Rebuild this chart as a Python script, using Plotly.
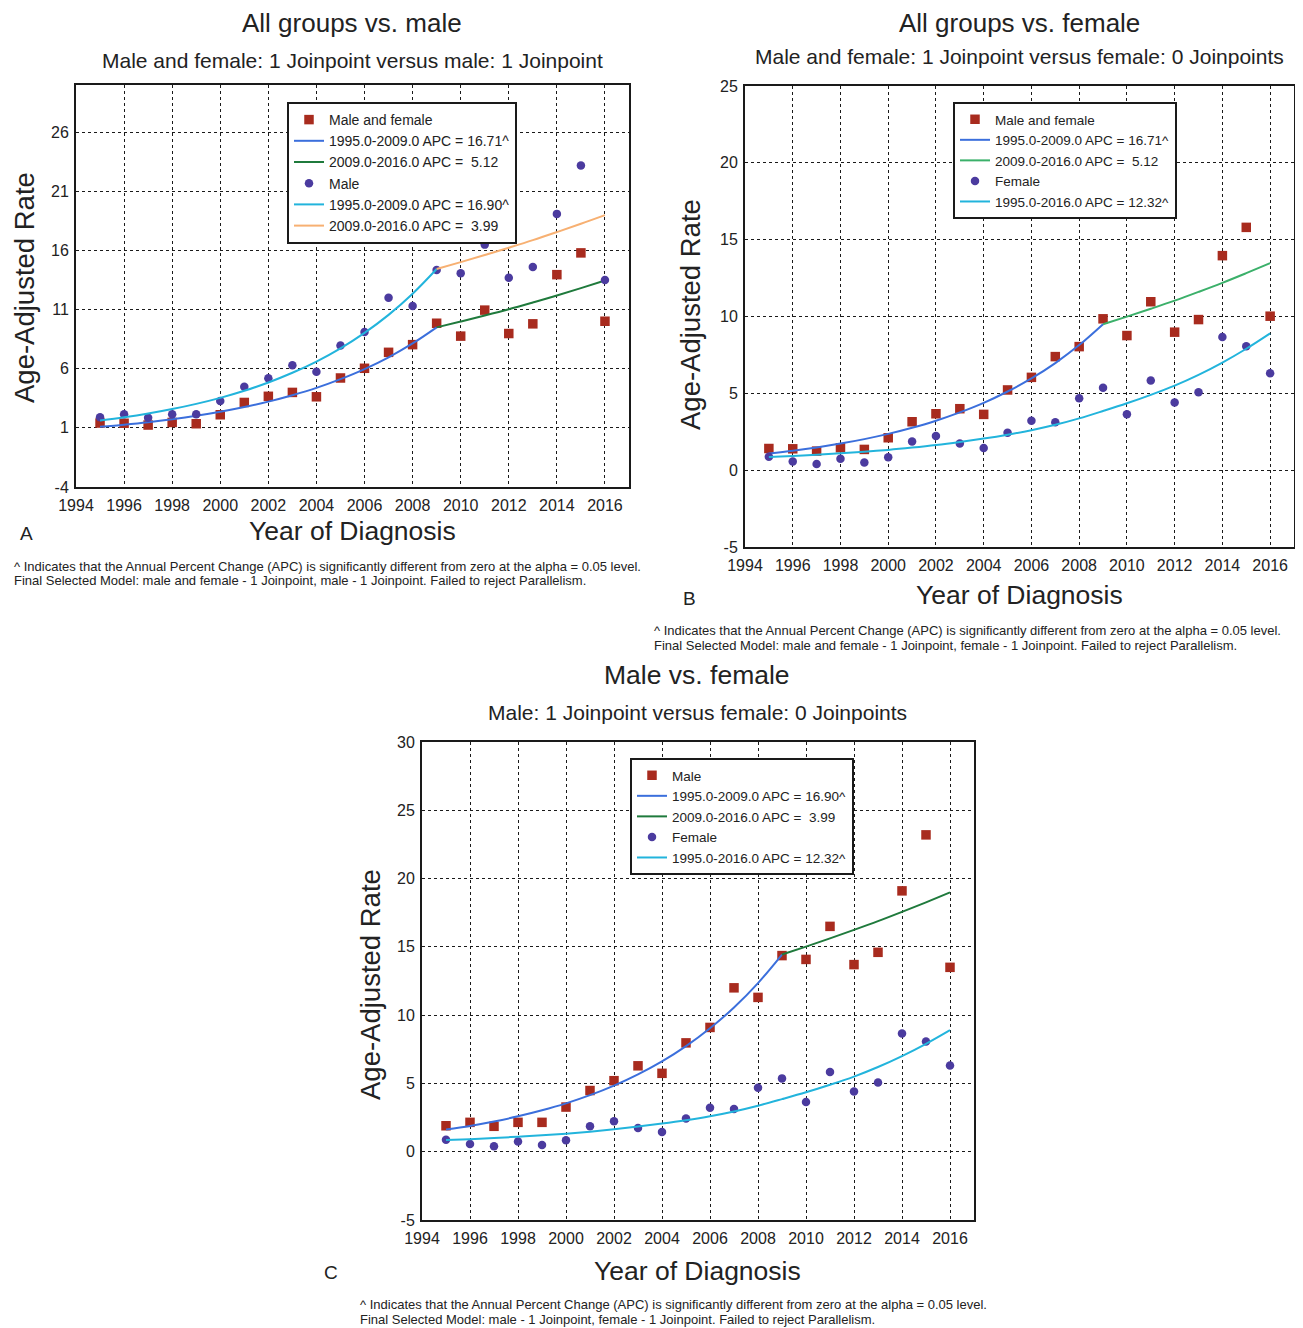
import plotly.graph_objects as go

# page is rendered with the browser's default 8px body margin
OFF = 8
W, H = 1303 - OFF, 1328 - OFF

# ---------------- data ----------------
years = list(range(1995, 2017))
seg1_years = list(range(1995, 2010))
seg2_years = list(range(2009, 2017))

mf_rate = [1.41, 1.39, 1.24, 1.46, 1.35, 2.11, 3.15, 3.67, 4.00, 3.63, 5.22,
           6.04, 7.39, 8.04, 9.85, 8.76, 10.96, 8.98, 9.80, 13.96, 15.80, 10.02]
male_rate = [1.90, 2.15, 1.86, 2.15, 2.15, 3.27, 4.48, 5.20, 6.29, 5.74, 7.97,
             9.10, 12.00, 11.30, 14.36, 14.08, 16.50, 13.70, 14.60, 19.10, 23.20, 13.50]
female_rate = [0.87, 0.57, 0.40, 0.74, 0.50, 0.84, 1.86, 2.23, 1.73, 1.44, 2.43,
               3.22, 3.12, 4.68, 5.37, 3.64, 5.84, 4.41, 5.07, 8.66, 8.07, 6.31]

mf_fit_seg1 = [1.09, 1.27, 1.48, 1.73, 2.02, 2.36, 2.76, 3.22, 3.76, 4.38, 5.12,
               5.97, 6.97, 8.14, 9.50]
mf_fit_seg2 = [9.50, 9.99, 10.50, 11.03, 11.60, 12.19, 12.82, 13.47]
male_fit_seg1 = [1.62, 1.89, 2.21, 2.59, 3.03, 3.54, 4.14, 4.84, 5.66, 6.61, 7.73,
                 9.04, 10.56, 12.35, 14.44]
male_fit_seg2 = [14.44, 15.02, 15.62, 16.24, 16.88, 17.56, 18.26, 18.99]
female_fit = [0.85, 0.92, 1.00, 1.10, 1.20, 1.32, 1.47, 1.64, 1.84, 2.06, 2.31,
              2.60, 2.95, 3.37, 3.85, 4.35, 4.90, 5.50, 6.20, 7.00, 7.90, 8.90]

x_ticks = list(range(1994, 2017, 2))
yA_ticks = [-4, 1, 6, 11, 16, 21, 26]
yB_ticks = [-5, 0, 5, 10, 15, 20, 25]
yC_ticks = [-5, 0, 5, 10, 15, 20, 25, 30]

lbl_mf = "Male and female"
lbl_male = "Male"
lbl_female = "Female"
lbl_mf_s1 = "1995.0-2009.0 APC = 16.71^"
lbl_mf_s2 = "2009.0-2016.0 APC =\u00a0\u00a05.12"
lbl_m_s1 = "1995.0-2009.0 APC = 16.90^"
lbl_m_s2 = "2009.0-2016.0 APC =\u00a0\u00a03.99"
lbl_f = "1995.0-2016.0 APC = 12.32^"

# ---------------- styles ----------------
FONT = "Liberation Sans, Arial, sans-serif"
TXT = "#222222"
RED = "#a82b1e"
PURPLE = "#4b3b9f"
BLUE = "#3b6fdc"
GREEN_DARK = "#1f7a3c"
GREEN_LIGHT = "#3bb06a"
CYAN = "#22b4dc"
ORANGE = "#f7b072"


def px(x):
    return (x - OFF) / W


def py(y):
    return 1 - (y - OFF) / H


fig = go.Figure()


def sq(x, y, name, xa, ya, leg):
    fig.add_trace(go.Scatter(x=x, y=y, mode="markers", name=name,
                             marker=dict(symbol="square", size=9.5, color=RED,
                                         line=dict(width=0)),
                             xaxis=xa, yaxis=ya, legend=leg))


def dot(x, y, name, xa, ya, leg):
    fig.add_trace(go.Scatter(x=x, y=y, mode="markers", name=name,
                             marker=dict(symbol="circle", size=8.5, color=PURPLE,
                                         line=dict(width=0)),
                             xaxis=xa, yaxis=ya, legend=leg))


def ln(x, y, name, color, xa, ya, leg):
    fig.add_trace(go.Scatter(x=x, y=y, mode="lines", name=name,
                             line=dict(color=color, width=2, shape="spline"),
                             xaxis=xa, yaxis=ya, legend=leg))


# Panel A
sq(years, mf_rate, lbl_mf, "x", "y", "legend")
ln(seg1_years, mf_fit_seg1, lbl_mf_s1, BLUE, "x", "y", "legend")
ln(seg2_years, mf_fit_seg2, lbl_mf_s2, GREEN_DARK, "x", "y", "legend")
dot(years, male_rate, lbl_male, "x", "y", "legend")
ln(seg1_years, male_fit_seg1, lbl_m_s1, CYAN, "x", "y", "legend")
ln(seg2_years, male_fit_seg2, lbl_m_s2, ORANGE, "x", "y", "legend")

# Panel B
sq(years, mf_rate, lbl_mf, "x2", "y2", "legend2")
ln(seg1_years, mf_fit_seg1, lbl_mf_s1, BLUE, "x2", "y2", "legend2")
ln(seg2_years, mf_fit_seg2, lbl_mf_s2, GREEN_LIGHT, "x2", "y2", "legend2")
dot(years, female_rate, lbl_female, "x2", "y2", "legend2")
ln(years, female_fit, lbl_f, CYAN, "x2", "y2", "legend2")

# Panel C
sq(years, male_rate, lbl_male, "x3", "y3", "legend3")
ln(seg1_years, male_fit_seg1, lbl_m_s1, BLUE, "x3", "y3", "legend3")
ln(seg2_years, male_fit_seg2, lbl_m_s2, GREEN_DARK, "x3", "y3", "legend3")
dot(years, female_rate, lbl_female, "x3", "y3", "legend3")
ln(years, female_fit, lbl_f, CYAN, "x3", "y3", "legend3")


def xaxis(dom, anchor):
    return dict(domain=dom, anchor=anchor, range=[1994, 2017], tickvals=x_ticks,
                ticktext=[str(v) for v in x_ticks], automargin=False,
                showgrid=True, gridcolor="#1a1a1a", gridwidth=1.3, griddash="dot",
                showline=True, linewidth=2, linecolor="#1a1a1a", mirror=True,
                zeroline=False, ticks="", ticklabelstandoff=3,
                tickfont=dict(family=FONT, size=16, color=TXT))


def yaxis(dom, anchor, rng, tv):
    return dict(domain=dom, anchor=anchor, range=rng, tickvals=tv,
                ticktext=[str(v) for v in tv], automargin=False,
                showgrid=True, gridcolor="#1a1a1a", gridwidth=1.3, griddash="dot",
                showline=True, linewidth=2, linecolor="#1a1a1a", mirror=True,
                zeroline=False, ticks="", ticklabelstandoff=2,
                tickfont=dict(family=FONT, size=16, color=TXT))


def legend(x0, y0, size):
    return dict(x=px(x0), y=py(y0), xanchor="left", yanchor="top",
                bordercolor="#1a1a1a", borderwidth=2, bgcolor="white",
                font=dict(family=FONT, size=size, color=TXT),
                itemwidth=30, tracegroupgap=0, traceorder="normal")


annotations = []


def text(x, y, s, size, xanchor="center", angle=0):
    annotations.append(dict(x=px(x), y=py(y), xref="paper", yref="paper",
                            text=s, showarrow=False, xanchor=xanchor,
                            yanchor="middle", textangle=angle,
                            font=dict(family=FONT, size=size, color=TXT)))


NOTE1 = "^ Indicates that the Annual Percent Change (APC) is significantly different from zero at the alpha = 0.05 level."
FN = 13

# Panel A texts
text(352, 23, "All groups vs. male", 26)
text(352, 60, "Male and female: 1 Joinpoint versus male: 1 Joinpoint", 21)
text(24, 288, "Age-Adjusted Rate", 27.5, angle=-90)
text(352, 531, "Year of Diagnosis", 26.5)
text(26, 533, "A", 19)
text(12, 566, NOTE1, FN, xanchor="left")
text(12, 580, "Final Selected Model: male and female - 1 Joinpoint, male - 1 Joinpoint. Failed to reject Parallelism.", FN, xanchor="left")

# Panel B texts
text(1020, 23, "All groups vs. female", 26)
text(1020, 57, "Male and female: 1 Joinpoint versus female: 0 Joinpoints", 21)
text(691, 315, "Age-Adjusted Rate", 27.5, angle=-90)
text(1020, 595, "Year of Diagnosis", 26.5)
text(689, 598, "B", 19)
text(652, 630, NOTE1, FN, xanchor="left")
text(652, 645, "Final Selected Model: male and female - 1 Joinpoint, female - 1 Joinpoint. Failed to reject Parallelism.", FN, xanchor="left")

# Panel C texts
text(697, 675, "Male vs. female", 26.5)
text(697, 712, "Male: 1 Joinpoint versus female: 0 Joinpoints", 21)
text(370, 985, "Age-Adjusted Rate", 27.5, angle=-90)
text(697, 1271, "Year of Diagnosis", 26.5)
text(331, 1272, "C", 19)
text(358, 1304, NOTE1, FN, xanchor="left")
text(358, 1319, "Final Selected Model: male - 1 Joinpoint, female - 1 Joinpoint. Failed to reject Parallelism.", FN, xanchor="left")

fig.update_layout(
    width=W, height=H, margin=dict(l=0, r=0, t=0, b=0, autoexpand=False),
    paper_bgcolor="white", plot_bgcolor="white", showlegend=True,
    xaxis=xaxis([px(76), px(629)], "y"),
    yaxis=yaxis([py(487), py(85)], "x", [-4, 30], yA_ticks),
    xaxis2=xaxis([px(745), px(1294)], "y2"),
    yaxis2=yaxis([py(547), py(86)], "x2", [-5, 25], yB_ticks),
    xaxis3=xaxis([px(422), px(974)], "y3"),
    yaxis3=yaxis([py(1220), py(742)], "x3", [-5, 30], yC_ticks),
    legend=legend(287, 102, 14),
    legend2=legend(953, 102, 13.5),
    legend3=legend(630, 758, 13.5),
    annotations=annotations,
)

fig.write_html("out.html")
